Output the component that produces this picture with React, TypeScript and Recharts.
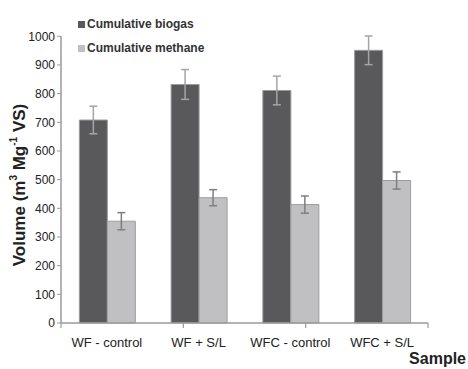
import React from "react";
import { BarChart, Bar, XAxis, YAxis, ErrorBar, Label } from "recharts";

const samples = ["WF - control", "WF + S/L", "WFC - control", "WFC + S/L"];
const biogas = [708, 832, 811, 951];
const biogasErr = [48, 52, 50, 50];
const methane = [355, 437, 413, 497];
const methaneErr = [30, 28, 30, 30];
const yTicks = [0, 100, 200, 300, 400, 500, 600, 700, 800, 900, 1000];
const edgeTicks = [0, 1, 2, 3, 4];

const data = samples.map((s, i) => ({
  sample: s,
  biogas: biogas[i],
  biogasErr: biogasErr[i],
  methane: methane[i],
  methaneErr: methaneErr[i],
}));

const narrow = "'Liberation Sans Narrow', 'Liberation Sans', Arial, sans-serif";
const sans = "'Liberation Sans', Arial, sans-serif";
const axisGray = "#9a9a9a";

function LegendBox() {
  const items = [
    { label: "Cumulative biogas", color: "#59595b" },
    { label: "Cumulative methane", color: "#c0c0c2" },
  ];
  return (
    <div style={{ position: "absolute", left: 78, top: 12, fontFamily: narrow, fontWeight: "bold", fontSize: 12, color: "#333" }}>
      {items.map((it) => (
        <div key={it.label} style={{ display: "flex", alignItems: "center", height: 24 }}>
          <span style={{ width: 7, height: 7, background: it.color, marginRight: 2, display: "inline-block" }} />
          {it.label}
        </div>
      ))}
    </div>
  );
}

function YLabel() {
  const cx = 19;
  const cy = 185;
  return (
    <text
      x={cx}
      y={cy}
      transform={`rotate(-90 ${cx} ${cy})`}
      textAnchor="middle"
      dominantBaseline="central"
      fontFamily={sans}
      fontWeight="bold"
      fontSize={17}
      fill="#222"
    >
      Volume (m<tspan dy={-6} fontSize={10}>3</tspan>
      <tspan dy={6}> Mg</tspan>
      <tspan dy={-6} fontSize={10}>-1</tspan>
      <tspan dy={6}> VS)</tspan>
    </text>
  );
}

function XLabel() {
  return (
    <text
      x={466}
      y={358}
      textAnchor="end"
      dominantBaseline="central"
      fontFamily={narrow}
      fontWeight="bold"
      fontSize={16}
      fill="#222"
    >
      Sample
    </text>
  );
}

export default function App() {
  return (
    <div style={{ position: "absolute", left: 0, top: 0, width: 468, height: 369, background: "#fff" }}>
      <BarChart
        width={468}
        height={369}
        data={data}
        margin={{ top: 36, right: 40, left: 21, bottom: 17 }}
        barCategoryGap="20%"
        barGap={0}
      >
        {/* edge ticks between categories, sits right on the plot bottom */}
        <XAxis
          type="number"
          domain={[0, 4]}
          ticks={edgeTicks}
          tick={{ fontSize: 1, fill: "none" }}
          tickFormatter={() => ""}
          tickSize={5}
          tickLine={{ stroke: axisGray, strokeWidth: 1.2 }}
          axisLine={{ stroke: axisGray, strokeWidth: 1.5 }}
          height={1}
        />
        <XAxis
          xAxisId="cat"
          dataKey="sample"
          interval={0}
          tick={{ fontSize: 13, fill: "#222", fontFamily: narrow }}
          tickLine={false}
          axisLine={false}
          tickMargin={8}
          height={28}
        >
          <Label content={<XLabel />} />
        </XAxis>
        <YAxis
          width={40}
          domain={[0, 1000]}
          ticks={yTicks}
          interval={0}
          tick={{ fontSize: 12, fill: "#222", fontFamily: narrow }}
          tickLine={{ stroke: axisGray }}
          tickSize={4}
          axisLine={{ stroke: axisGray, strokeWidth: 1.5 }}
        >
          <Label content={<YLabel />} />
        </YAxis>
        <Bar xAxisId="cat" dataKey="biogas" fill="#59595b" stroke="#9b9b9d" strokeWidth={1} isAnimationActive={false}>
          <ErrorBar dataKey="biogasErr" width={4} stroke="#a5a5a5" strokeWidth={1.5} direction="y" />
        </Bar>
        <Bar xAxisId="cat" dataKey="methane" fill="#c0c0c2" stroke="#9d9d9f" strokeWidth={1} isAnimationActive={false}>
          <ErrorBar dataKey="methaneErr" width={4} stroke="#7f7f7f" strokeWidth={1.5} direction="y" />
        </Bar>
      </BarChart>
      <LegendBox />
    </div>
  );
}
